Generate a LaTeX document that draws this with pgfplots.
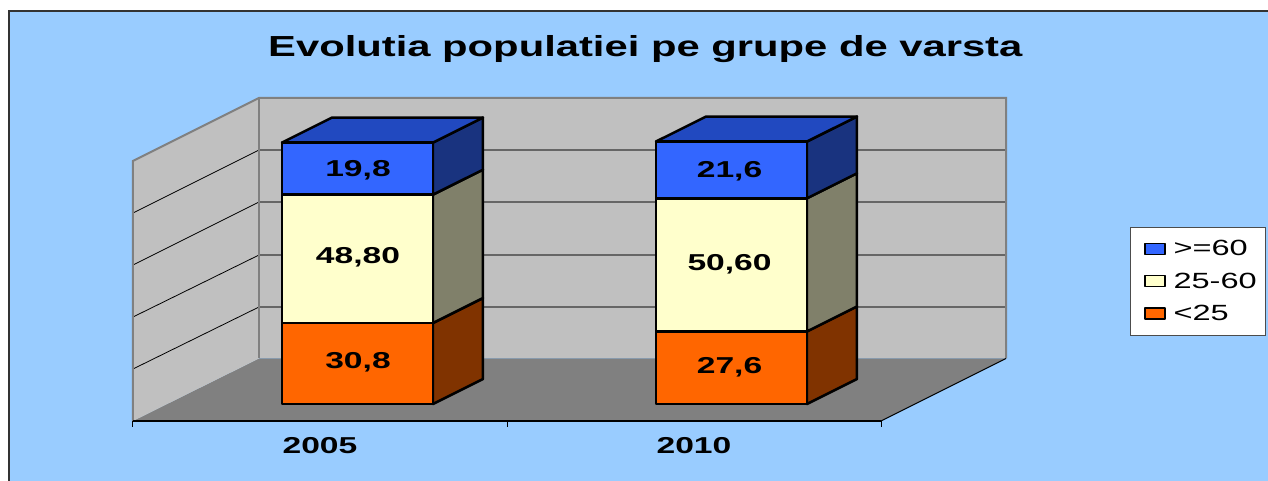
\documentclass[border=0pt]{standalone}
\usepackage{fontspec}
\setmainfont{Liberation Sans}
\usepackage{pgfplots}
\pgfplotsset{compat=1.18}
\definecolor{bg}{HTML}{99CCFF}
\definecolor{wall}{HTML}{C0C0C0}
\definecolor{floorc}{HTML}{808080}
\definecolor{bluef}{HTML}{3366FF}
\definecolor{bluet}{HTML}{2149C0}
\definecolor{blues}{HTML}{19337F}
\definecolor{yelf}{HTML}{FFFFCC}
\definecolor{yels}{HTML}{80806A}
\definecolor{oraf}{HTML}{FF6600}
\definecolor{oras}{HTML}{803300}
\newcommand\sx[2]{\scalebox{#1}[1]{#2}}
\newcommand\lab[1]{\fontsize{23}{25}\selectfont\bfseries\sx{1.46}{#1}}
\newcommand\leg[1]{\fontsize{22}{24}\selectfont\sx{1.48}{#1}\hspace*{-7pt}}
\pgfplotsset{base/.style={
  hide axis, scale only axis, width=1268pt, height=481pt,
  xmin=-0.85561, xmax=2.53476, ymin=-29.278, ymax=153.612},
  bx/.style={draw=black,line width=2.5pt,line join=round}}
\begin{document}
\begin{tikzpicture}
\begin{axis}[base]
% page and chart area
\addplot[fill=white,draw=none] coordinates {(-0.85561,-29.278) (2.53476,-29.278) (2.53476,153.612) (-0.85561,153.612)} --cycle;
\addplot[fill=bg,draw=none] coordinates {(-0.8316,-29.278) (2.53476,-29.278) (2.53476,149.43) (-0.8316,149.43)} --cycle;
\addplot[draw=black!80,line width=1.5pt] coordinates {(-0.8316,-29.278) (-0.8316,149.43) (2.53476,149.43)};
% floor
\addplot[fill=floorc,draw=none] coordinates {(-0.5,-6.46) (-0.1631,17.3) (1.8342,17.3) (1.5,-6.46)} --cycle;
% back wall
\addplot[fill=wall,draw=none] coordinates {(-0.1631,17.3) (1.8342,17.3) (1.8342,116.35) (-0.1631,116.35)} --cycle;
% left wall
\addplot[fill=wall,draw=none] coordinates {(-0.5,-6.46) (-0.1631,17.3) (-0.1631,116.35) (-0.5,92.40)} --cycle;
% grid lines
\addplot[black!60,line width=1.2pt] coordinates {(-0.1631,36.88) (1.8342,36.88)};
\addplot[black!60,line width=1.2pt] coordinates {(-0.1631,56.65) (1.8342,56.65)};
\addplot[black!60,line width=1.2pt] coordinates {(-0.1631,76.81) (1.8342,76.81)};
\addplot[black!60,line width=1.2pt] coordinates {(-0.1631,96.58) (1.8342,96.58)};
\addplot[black,line width=.8pt] coordinates {(-0.5,13.31) (-0.1631,36.88)};
\addplot[black,line width=.8pt] coordinates {(-0.5,33.08) (-0.1631,56.65)};
\addplot[black,line width=.8pt] coordinates {(-0.5,52.85) (-0.1631,76.81)};
\addplot[black,line width=.8pt] coordinates {(-0.5,72.62) (-0.1631,96.58)};
% wall edges
\addplot[floorc,line width=2pt] coordinates {(-0.5,-6.46) (-0.5,92.40) (-0.1631,116.35) (1.8342,116.35) (1.8342,17.3)};
\addplot[floorc,line width=2pt] coordinates {(-0.1631,116.35) (-0.1631,17.3)};
\addplot[black,line width=1pt] coordinates {(1.8342,17.3) (1.5,-6.46)};
% category axis
\addplot[black,line width=1.5pt] coordinates {(-0.5,-6.46) (1.5,-6.46)};
\addplot[black,line width=1pt] coordinates {(-0.5,-6.46) (-0.5,-8.6)};
\addplot[black,line width=1pt] coordinates {(0.5,-6.46) (0.5,-8.6)};
\addplot[black,line width=1pt] coordinates {(1.5,-6.46) (1.5,-8.6)};
% 2005 side and top faces
\addplot[fill=oras,bx] coordinates {(0.3021,0) (0.4358,9.5) (0.4358,40.3) (0.3021,30.8)} --cycle;
\addplot[fill=yels,bx] coordinates {(0.3021,30.8) (0.4358,40.3) (0.4358,89.1) (0.3021,79.6)} --cycle;
\addplot[fill=blues,bx] coordinates {(0.3021,79.6) (0.4358,89.1) (0.4358,108.9) (0.3021,99.4)} --cycle;
\addplot[fill=bluet,bx] coordinates {(-0.1016,99.4) (0.3021,99.4) (0.4358,108.9) (0.0321,108.9)} --cycle;
% 2010 side and top faces
\addplot[fill=oras,bx] coordinates {(1.3021,0) (1.4358,9.5) (1.4358,37.1) (1.3021,27.6)} --cycle;
\addplot[fill=yels,bx] coordinates {(1.3021,27.6) (1.4358,37.1) (1.4358,87.7) (1.3021,78.2)} --cycle;
\addplot[fill=blues,bx] coordinates {(1.3021,78.2) (1.4358,87.7) (1.4358,109.3) (1.3021,99.8)} --cycle;
\addplot[fill=bluet,bx] coordinates {(0.8984,99.8) (1.3021,99.8) (1.4358,109.3) (1.0321,109.3)} --cycle;
\end{axis}
\begin{axis}[base, ybar stacked, bar width=151pt, bar shift=37.5pt, clip=false,
  reverse legend,
  legend cell align=left,
  legend style={at={(axis cs:2.1658,67.3)},anchor=north west,draw=black!70,fill=white,
    line width=.8pt,inner xsep=14pt,inner ysep=11pt,row sep=11.5pt,
    /tikz/every odd column/.style={column sep=5.5pt}},
  legend image code/.code={\draw[#1,draw=black,line width=1.6pt] (0pt,-5.5pt) rectangle (20pt,5.5pt);}]
\addplot[fill=oraf,bx] coordinates {(0,30.8) (1,27.6)};
\addlegendentry{\leg{<25}}
\addplot[fill=yelf,bx] coordinates {(0,48.8) (1,50.6)};
\addlegendentry{\leg{25-60}}
\addplot[fill=bluef,bx] coordinates {(0,19.8) (1,21.6)};
\addlegendentry{\leg{>=60}}
\end{axis}
\begin{axis}[base, clip=false]
\node[anchor=base] at (axis cs:0.1016,13.4) {\lab{30,8}};
\node[anchor=base] at (axis cs:0.1016,53.3) {\lab{48,80}};
\node[anchor=base] at (axis cs:0.1016,86.4) {\lab{19,8}};
\node[anchor=base] at (axis cs:1.095,11.5) {\lab{27,6}};
\node[anchor=base] at (axis cs:1.095,50.65) {\lab{50,60}};
\node[anchor=base] at (axis cs:1.095,86) {\lab{21,6}};
\node[anchor=base] at (axis cs:0,-19) {\lab{2005}};
\node[anchor=base] at (axis cs:1,-19) {\lab{2010}};
\node[anchor=base] at (axis cs:0.8697,132.1) {\fontsize{29}{31}\selectfont\bfseries\sx{1.44}{Evolutia populatiei pe grupe de varsta}};
\end{axis}
\end{tikzpicture}
\end{document}
